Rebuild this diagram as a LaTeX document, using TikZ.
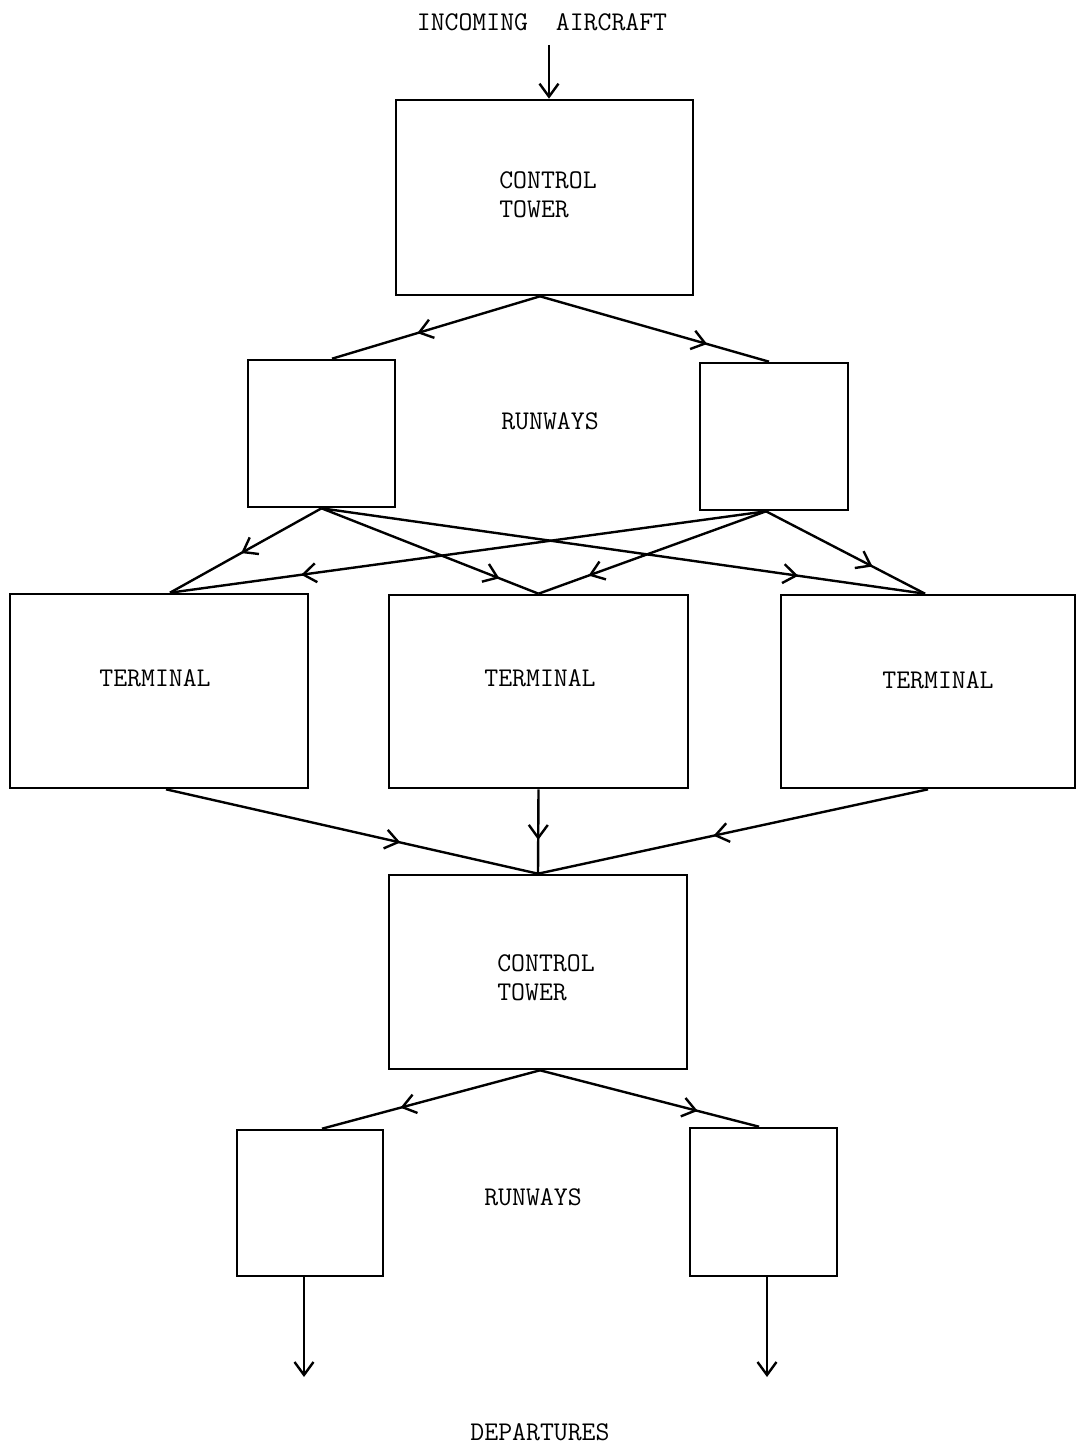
\documentclass[tikz,border=0pt]{standalone}
\usetikzlibrary{arrows.meta,decorations.markings}
\begin{document}
\begin{tikzpicture}[x=1pt,y=-1pt,
  every node/.style={font=\fontsize{27}{29}\selectfont\ttfamily},
  box/.style={draw,line width=2.6pt,minimum width=#1,inner sep=0pt},
  lbl/.style={align=left,inner sep=0pt},
  conn/.style={line width=2.4pt},
  midarrow/.style={conn,postaction={decorate},decoration={markings,mark=at position #1 with {\arrow{Straight Barb[length=13pt,width=19pt,line width=2.4pt]}}}}
]
\useasboundingbox (0,0) rectangle (1077,1447);
% boxes
\node[box=297pt,minimum height=195pt] (ct1) at (544.5,197.5) {};
\node[box=147pt,minimum height=147pt] (rwL1) at (321.5,433.5) {};
\node[box=148pt,minimum height=147pt] (rwR1) at (774,436.5) {};
\node[box=298pt,minimum height=194pt] (tL) at (159,691) {};
\node[box=299pt,minimum height=193pt] (tM) at (538.5,691.5) {};
\node[box=294pt,minimum height=193pt] (tR) at (928,691.5) {};
\node[box=298pt,minimum height=194pt] (ct2) at (538,972) {};
\node[box=146pt,minimum height=146pt] (rwL2) at (310,1203) {};
\node[box=147pt,minimum height=148pt] (rwR2) at (763.5,1202) {};
% texts
\node[lbl] (incoming) at (542,22) {INCOMING\ \ AIRCRAFT};
\node[lbl] (ct1t) at (548,195) {CONTROL\\TOWER};
\node[lbl] (rw1t) at (550,421) {RUNWAYS};
\node[lbl] (tLt) at (155,678) {TERMINAL};
\node[lbl] (tMt) at (540,678) {TERMINAL};
\node[lbl] (tRt) at (938,680) {TERMINAL};
\node[lbl] (ct2t) at (546,978) {CONTROL\\TOWER};
\node[lbl] (rw2t) at (533,1197) {RUNWAYS};
\node[lbl] (dep) at (540,1432) {DEPARTURES};
% free ends
\coordinate (inStart) at (549,45);
\coordinate (depL) at (304,1377);
\coordinate (depR) at (767,1377);
% connectors
\draw[conn,-{Straight Barb[length=13pt,width=19pt,line width=2.4pt]}] (inStart) -- ([xshift=4.5pt]ct1.north);
\draw[midarrow=0.59] ([xshift=-4.5pt]ct1.south) -- ([xshift=10.5pt]rwL1.north);
\draw[midarrow=0.73] ([xshift=-4.5pt]ct1.south) -- ([xshift=-5pt]rwR1.north);
\draw[midarrow=0.53] (rwL1.south) -- ([xshift=11pt]tL.north);
\draw[midarrow=0.82] (rwL1.south) -- (tM.north);
\draw[midarrow=0.79] (rwL1.south) -- ([xshift=-3pt]tR.north);
\draw[midarrow=0.78] ([xshift=-8pt]rwR1.south) -- ([xshift=11pt]tL.north);
\draw[midarrow=0.78] ([xshift=-8pt]rwR1.south) -- (tM.north);
\draw[midarrow=0.67] ([xshift=-8pt]rwR1.south) -- ([xshift=-3pt]tR.north);
\draw[midarrow=0.63] ([xshift=7pt]tL.south) -- (ct2.north);
\draw[midarrow=0.6] (tM.south) -- (ct2.north);
\draw[midarrow=0.55] (tR.south) -- (ct2.north);
\draw[midarrow=0.64] ([xshift=2pt]ct2.south) -- ([xshift=12pt]rwL2.north);
\draw[midarrow=0.72] ([xshift=2pt]ct2.south) -- ([xshift=-4.5pt]rwR2.north);
\draw[conn,-{Straight Barb[length=13pt,width=19pt,line width=2.4pt]}] ([xshift=-6pt]rwL2.south) -- (depL);
\draw[conn,-{Straight Barb[length=13pt,width=19pt,line width=2.4pt]}] ([xshift=3.5pt]rwR2.south) -- (depR);
\end{tikzpicture}
\end{document}
